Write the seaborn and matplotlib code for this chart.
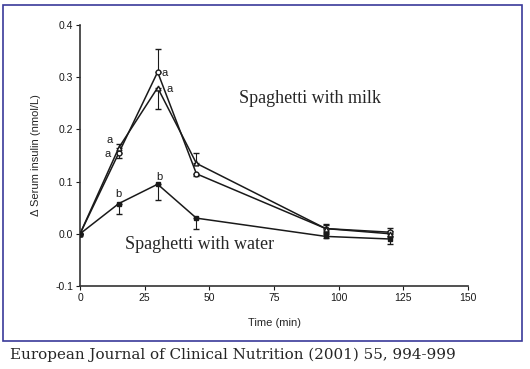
import matplotlib
matplotlib.use("Agg")
import matplotlib.pyplot as plt
import numpy as np
import pandas as pd
import seaborn as sns
from matplotlib.patches import Rectangle

# time points (min)
time = [0, 15, 30, 45, 95, 120]

# spaghetti with milk (open circles)
milk1 = [0.0, 0.155, 0.31, 0.115, 0.010, 0.003]
milk1_lo = [0.0, 0.010, 0.0, 0.005, 0.008, 0.008]
milk1_hi = [0.0, 0.0, 0.045, 0.0, 0.008, 0.008]

# spaghetti with milk (second series)
milk2 = [0.0, 0.165, 0.28, 0.135, 0.010, 0.000]
milk2_lo = [0.0, 0.0, 0.04, 0.0, 0.006, 0.006]
milk2_hi = [0.0, 0.008, 0.0, 0.02, 0.006, 0.006]

# spaghetti with water (filled squares)
water = [0.0, 0.058, 0.095, 0.030, -0.005, -0.010]
water_lo = [0.0, 0.020, 0.030, 0.020, 0.004, 0.010]
water_hi = [0.0, 0.0, 0.0, 0.0, 0.004, 0.010]

letters = [(11.5, 0.179, "a"), (10.6, 0.153, "a"), (32.7, 0.308, "a"),
           (34.6, 0.277, "a"), (15.0, 0.077, "b"), (30.8, 0.108, "b")]

sns.set_style("ticks")
plt.rcParams['font.family'] = ['Liberation Sans', 'DejaVu Sans']

fig = plt.figure(figsize=(5.3, 3.69), dpi=100)
ax = fig.add_axes([0.151, 0.225, 0.732, 0.707])

df = pd.DataFrame({"time": time * 3,
                   "value": milk1 + milk2 + water,
                   "series": ["m1"] * 6 + ["m2"] * 6 + ["w"] * 6})

sns.lineplot(data=df, x="time", y="value", units="series", estimator=None,
             color="#1a1a1a", lw=1.1, ax=ax, legend=False)

ax.errorbar(time, milk1, yerr=[milk1_lo, milk1_hi], fmt="o", ms=3.5,
            mfc="white", mec="#1a1a1a", ecolor="#1a1a1a", elinewidth=0.8,
            capsize=2, zorder=3)
ax.errorbar(time, milk2, yerr=[milk2_lo, milk2_hi], fmt="^", ms=3.5,
            mfc="white", mec="#1a1a1a", ecolor="#1a1a1a", elinewidth=0.8,
            capsize=2, zorder=3)
ax.errorbar(time, water, yerr=[water_lo, water_hi], fmt="s", ms=3.5,
            color="#1a1a1a", elinewidth=0.8, capsize=2, zorder=3)

for x, y, s in letters:
    ax.text(x, y, s, fontsize=8, ha="center", va="center", color="#1a1a1a")

ax.text(61.5, 0.26, "Spaghetti with milk", fontsize=13,
        family=["Liberation Serif", "DejaVu Serif"], va="center")
ax.text(17.3, -0.02, "Spaghetti with water", fontsize=13,
        family=["Liberation Serif", "DejaVu Serif"], va="center")

ax.set_xlim(0, 150)
ax.set_ylim(-0.1, 0.4)
ax.set_xticks([0, 25, 50, 75, 100, 125, 150])
ax.set_yticks([-0.1, 0.0, 0.1, 0.2, 0.3, 0.4])
ax.set_yticklabels(["-0.1", "0.0", "0.1", "0.2", "0.3", "0.4"])
ax.tick_params(labelsize=7.5, length=3, width=0.8, colors="#1a1a1a", pad=2)
ax.set_xlabel("Time (min)", fontsize=8, labelpad=11)
ax.set_ylabel("Δ Serum insulin (nmol/L)", fontsize=8, labelpad=10)
sns.despine(ax=ax)
for sp in ["left", "bottom"]:
    ax.spines[sp].set_linewidth(1.2)
    ax.spines[sp].set_color("#333333")

# blue frame around the chart
fig.patches.append(Rectangle((3 / 530, 1 - 341 / 369), 519 / 530, 336 / 369,
                             transform=fig.transFigure, fill=False,
                             edgecolor="#3a3a9a", lw=1.2))

fig.text(10 / 530, 1 - 355 / 369,
         "European Journal of Clinical Nutrition (2001) 55, 994-999",
         fontsize=10.9, family=["DejaVu Serif"], va="center", ha="left")

fig.savefig("out.png", dpi=100)
